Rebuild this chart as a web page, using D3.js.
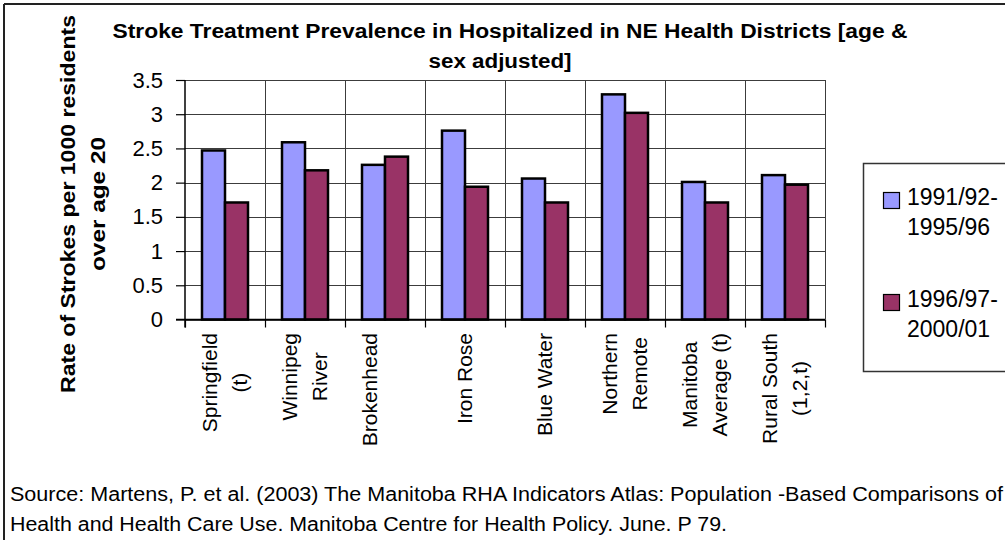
<!DOCTYPE html>
<html>
<head>
<meta charset="utf-8">
<script src="https://cdn.jsdelivr.net/npm/d3@7"></script>
<style>
  html, body { margin: 0; padding: 0; background: #fff; }
  svg { display: block; }
  text { font-family: "Liberation Sans", Arial, sans-serif; fill: #000; }
</style>
</head>
<body>
<svg id="chart" width="1005" height="540"></svg>
<script>
// Stroke treatment rates per 1000 residents over age 20, by health district
const categories = [
  "Springfield\n(t)", "Winnipeg\nRiver", "Brokenhead\n", "Iron Rose",
  "Blue Water", "Northern\nRemote", "Manitoba\nAverage (t)", "Rural South\n(1,2,t)"
];
const seriesNames = ["1991/92-\n1995/96", "1996/97-\n2000/01"];
const values1991 = [2.47, 2.59, 2.26, 2.76, 2.06, 3.29, 2.01, 2.11];
const values1996 = [1.71, 2.18, 2.38, 1.94, 1.71, 3.02, 1.71, 1.97];
const yTicks = [0, 0.5, 1, 1.5, 2, 2.5, 3, 3.5];
const titleLines = ["Stroke Treatment Prevalence in Hospitalized in NE Health Districts [age &", "sex adjusted]"];
const yTitleLines = ["Rate of Strokes per 1000 residents", "over age 20"];
const sourceLines = [
  "Source: Martens, P. et al. (2003) The Manitoba RHA Indicators Atlas: Population -Based Comparisons of",
  "Health and Health Care Use. Manitoba Centre for Health Policy. June. P 79."
];

const colors = ["#9999FF", "#993366"];
const seriesValues = [values1991, values1996];

const svg = d3.select("#chart");
const plot = { left: 185, right: 825, top: 80, bottom: 319.5 };

// outer frame (top and left edges)
svg.append("line").attr("x1", 4).attr("x2", 1005).attr("y1", 4).attr("y2", 4)
  .attr("stroke", "#222").attr("stroke-width", 2);
svg.append("line").attr("x1", 4).attr("x2", 4).attr("y1", 4).attr("y2", 540)
  .attr("stroke", "#222").attr("stroke-width", 2);

const x0 = d3.scaleBand().domain(d3.range(categories.length))
  .range([plot.left, plot.right]).padding(0);
const groupWidth = 46;
const x1 = d3.scaleBand().domain(d3.range(seriesNames.length)).range([0, groupWidth]).padding(0);
const y = d3.scaleLinear().domain([0, 3.5]).range([plot.bottom, plot.top]);

// horizontal gridlines
svg.append("g").selectAll("line").data(yTicks).join("line")
  .attr("x1", plot.left).attr("x2", plot.right)
  .attr("y1", d => Math.round(y(d)) + 0.5).attr("y2", d => Math.round(y(d)) + 0.5)
  .attr("stroke", "#3c3c3c").attr("stroke-width", 1);

// vertical gridlines at category boundaries
const boundaries = d3.range(categories.length + 1).map(i => plot.left + i * x0.step());
svg.append("g").selectAll("line").data(boundaries.slice(1)).join("line")
  .attr("x1", d => Math.round(d) + 0.5).attr("x2", d => Math.round(d) + 0.5)
  .attr("y1", plot.top).attr("y2", plot.bottom)
  .attr("stroke", "#3c3c3c").attr("stroke-width", 1);

// bars
const groups = svg.append("g").selectAll("g").data(categories).join("g")
  .attr("transform", (d, i) => `translate(${x0(i) + (x0.bandwidth() - groupWidth) / 2},0)`);
groups.selectAll("rect")
  .data((d, i) => seriesValues.map((vals, s) => ({ s, v: vals[i] })))
  .join("rect")
  .attr("x", d => x1(d.s))
  .attr("width", x1.bandwidth())
  .attr("y", d => y(d.v))
  .attr("height", d => y(0) - y(d.v))
  .attr("fill", d => colors[d.s])
  .attr("stroke", "#000").attr("stroke-width", 2.5);

// y axis
const yAxis = d3.axisLeft(y).tickValues(yTicks).tickFormat(d => String(d))
  .tickSize(9).tickPadding(13);
const yg = svg.append("g").attr("transform", `translate(${plot.left},0)`).call(yAxis);
yg.select(".domain").remove();
yg.selectAll(".tick line").attr("stroke", "#000").attr("stroke-width", 1.2);
yg.selectAll(".tick text").attr("font-size", 22).attr("fill", "#000");
svg.append("line").attr("x1", plot.left).attr("x2", plot.left)
  .attr("y1", plot.top).attr("y2", plot.bottom + 8)
  .attr("stroke", "#000").attr("stroke-width", 1.5);

// x axis line and boundary ticks
svg.append("line").attr("x1", plot.left - 9).attr("x2", plot.right)
  .attr("y1", plot.bottom).attr("y2", plot.bottom)
  .attr("stroke", "#000").attr("stroke-width", 1.5);
svg.append("g").selectAll("line").data(boundaries).join("line")
  .attr("x1", d => Math.round(d) + 0.5).attr("x2", d => Math.round(d) + 0.5)
  .attr("y1", plot.bottom).attr("y2", plot.bottom + 8)
  .attr("stroke", "#000").attr("stroke-width", 1.2);

// rotated category labels
const lineGap = 30, labelTop = 333, labelSize = 21;
categories.forEach((c, i) => {
  const lines = c.split("\n");
  const cx = x0(i) + x0.bandwidth() / 2;
  const g = svg.append("g");
  const texts = lines.map((t, k) => {
    const lx = cx + (k - (lines.length - 1) / 2) * lineGap;
    return g.append("text")
      .attr("transform", `translate(${lx},0) rotate(-90)`)
      .attr("dy", "0.35em")
      .attr("font-size", labelSize)
      .attr("text-anchor", "middle")
      .text(t);
  });
  const maxLen = d3.max(texts, t => t.node().getComputedTextLength());
  texts.forEach((t, k) => {
    const lx = cx + (k - (lines.length - 1) / 2) * lineGap;
    t.attr("transform", `translate(${lx},${labelTop + maxLen / 2}) rotate(-90)`);
  });
});

// chart title
const titleY = [38, 68], titleX = [510, 500], titleLen = [795, 143];
titleLines.forEach((t, k) => {
  svg.append("text").attr("x", titleX[k]).attr("y", titleY[k])
    .attr("text-anchor", "middle").attr("font-size", 20).attr("font-weight", "bold")
    .attr("textLength", titleLen[k]).attr("lengthAdjust", "spacingAndGlyphs")
    .text(t);
});

// y axis title
const yTitleX = [75, 105], yTitleLen = [378, 134], yTitleCenter = 204;
yTitleLines.forEach((t, k) => {
  svg.append("text")
    .attr("transform", `translate(${yTitleX[k]},${yTitleCenter}) rotate(-90)`)
    .attr("text-anchor", "middle").attr("font-size", 21).attr("font-weight", "bold")
    .attr("textLength", yTitleLen[k]).attr("lengthAdjust", "spacingAndGlyphs")
    .text(t);
});

// legend
svg.append("rect").attr("x", 863.5).attr("y", 163.5).attr("width", 150).attr("height", 208)
  .attr("fill", "#fff").attr("stroke", "#333").attr("stroke-width", 1.5);
const legendRows = [192, 294];
seriesNames.forEach((name, s) => {
  const top = legendRows[s];
  svg.append("rect").attr("x", 883.5).attr("y", top + 0.5).attr("width", 16).attr("height", 16)
    .attr("fill", colors[s]).attr("stroke", "#000").attr("stroke-width", 1.2);
  name.split("\n").forEach((t, k) => {
    svg.append("text").attr("x", 907).attr("y", top + 13 + k * 30)
      .attr("font-size", 23).text(t);
  });
});

// source note
const sourceY = [501, 531], sourceLen = [993, 717];
sourceLines.forEach((t, k) => {
  svg.append("text").attr("x", 10).attr("y", sourceY[k])
    .attr("font-size", 20)
    .attr("textLength", sourceLen[k]).attr("lengthAdjust", "spacingAndGlyphs")
    .text(t);
});
</script>
</body>
</html>
